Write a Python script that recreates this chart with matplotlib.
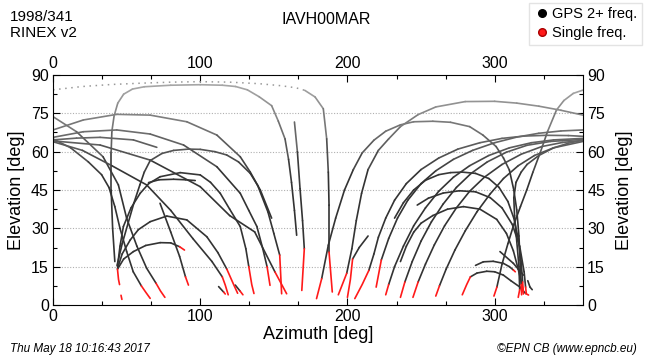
import matplotlib
matplotlib.use("Agg")
import matplotlib.pyplot as plt
from matplotlib.collections import LineCollection
from matplotlib.lines import Line2D
from matplotlib.ticker import MultipleLocator, AutoMinorLocator

plt.rcParams["font.family"] = ["Liberation Sans", "DejaVu Sans"]

# satellite passes as (azimuth, elevation) points, dual-frequency part
zenith_pass = [(0, 84.2), (20, 85.5), (40, 86.3), (60, 86.8), (80, 87.2), (100, 87.4),
               (120, 87.2), (140, 86.6), (155, 85.8), (165, 85), (171, 84)]

tracks_west = [
    [(42, 17), (40.5, 30), (39.5, 45), (39.5, 60), (40, 68), (41.5, 74), (44, 79), (48, 82.5),
     (54, 84.5), (62, 85.4), (80, 86), (100, 86.2), (115, 86), (124, 85.5), (132, 84.2),
     (140, 81.5), (148.5, 78), (153, 72), (157.6, 65), (160, 57), (162, 48), (164, 37),
     (165.5, 27.3)],
    [(0, 73.7), (16, 67.8), (34, 58), (44.4, 47), (50, 34), (57, 23), (63.6, 14.4), (70, 8.5)],
    [(0, 68.5), (20.6, 72.4), (43.3, 74.6), (66, 74.3), (90.9, 71.7), (111.3, 66.5), (127.2, 58),
     (134, 52), (140.8, 45), (148.5, 34)],
    [(0, 65.6), (20.6, 67.8), (43.3, 68.5), (66, 66.9), (88.7, 62.6), (111.3, 54.1), (127.2, 43.7),
     (133, 37), (138.5, 30.7), (142.5, 22), (145.4, 15)],
    [(0, 64.6), (16, 65.3), (32, 65.6), (54.6, 64.6), (70.5, 61.7)],
    [(0, 64.2), (32, 62.6), (66, 56.7), (100, 46.3), (120, 35), (137, 28.6), (150.8, 12.9)],
    [(0, 63.9), (20, 60.5), (40, 54.5), (63.6, 47), (80, 37), (95, 26), (108, 17), (115, 11)],
    [(0, 65), (12, 61.5), (24, 56), (33, 51), (38, 46), (42, 38.5), (45.5, 30), (50, 21),
     (54.5, 13), (60, 7.5)],
    [(43.8, 14), (48, 18), (54.6, 20.9), (63, 23.3), (72.8, 24.4), (80, 24.3), (86, 22.8)],
    [(43.8, 14.3), (47, 20), (52.4, 25.4), (58, 29.5), (66, 32.6), (77.3, 34.8), (90.9, 33.3),
     (104.5, 26.7), (112, 20.5), (118.1, 14)],
    [(43.8, 15), (45.5, 23), (47.8, 30.7), (53, 38), (59.2, 43.7), (65, 47.5), (72.8, 50.2),
     (86.4, 51.8), (100, 50.9), (107, 48), (113.6, 43.7), (120, 37.5), (127.2, 30.7), (131, 22),
     (133, 15)],
    [(43.5, 15.5), (47, 24), (51, 32), (55, 40), (59, 47), (62, 52), (66, 56.5), (74, 59.3),
     (82, 60.5), (92, 61), (100, 60.9), (110, 60), (118, 58.7), (126, 56), (134, 51.5),
     (139, 46.8), (146, 36.4), (150, 28), (154, 19.5)],
    [(64.9, 47.9), (72, 49), (81.9, 49.2), (90, 49), (96.6, 48.7)],
    [(72.7, 39.8), (80, 28.5), (86, 19), (90, 11)],
    [(112.5, 7.2), (116, 5)],
    [(123.8, 7.8), (127, 5.5)],
    [(164, 71.6), (166, 60), (167.8, 45.5), (169.5, 33), (170.7, 22)],
    [(171, 84), (178, 81.4), (183.6, 76.8), (185.9, 65), (187, 52), (187.5, 39), (187.5, 20.7)],
]

tracks_east = [
    [(182.5, 10.3), (187, 23.4), (192, 34), (198, 45), (204, 53), (210, 59.5), (218, 64.5),
     (226, 68), (236, 70.5), (245, 71.7), (258, 71.9), (270, 71.5), (283, 69.8), (292, 66.5),
     (301, 62), (306, 57.5), (310, 52.8), (313, 45), (315, 37.2), (316.5, 27), (317.2, 17.6),
     (318, 8)],
    [(199.5, 12.4), (203, 22), (206, 33), (209.6, 43.7), (214, 53), (221, 60.5), (228, 65),
     (236, 69.8), (248, 74.5), (260, 77.5), (280, 79.6), (300, 79.7), (315, 79), (330, 77.8),
     (345, 76.2), (360, 74.3)],
    [(301.5, 7), (305, 16), (309, 24), (313, 31.5), (317.5, 38.5), (321.8, 45), (326, 52),
     (330.8, 59.4), (336, 68), (342, 76.3), (347, 80), (353.4, 82.8), (360, 84.1)],
    [(203.5, 18), (208, 22.5), (214, 27)],
    [(214.5, 13.5), (218, 20), (221, 26.5), (226, 34), (232, 41), (240, 47.5), (250, 53),
     (262, 57.5), (275, 61), (290, 63.5), (305, 65.2), (320, 66.1), (335, 66.4), (350, 66.3),
     (360, 66)],
    [(223, 17.6), (228, 26), (234, 34), (241, 41), (250, 47.5), (260, 52.5), (272, 57),
     (285, 60.5), (300, 63.5), (315, 65.7), (330, 67.2), (345, 68.1), (360, 68.5)],
    [(228, 8), (232, 15), (238, 23), (245, 31), (253, 38), (262, 44.5), (272, 50), (283, 54.5),
     (296, 58.5), (310, 61.5), (325, 63.5), (340, 64.6), (360, 65.2)],
    [(239, 9), (244, 17), (250, 25), (257, 32.5), (265, 39.5), (274, 46), (284, 51.5), (295, 56),
     (308, 59.8), (322, 62.5), (338, 64), (360, 64.8)],
    [(248, 9), (253, 16), (259, 23.5), (266, 31), (274, 38), (283, 44.5), (293, 50), (305, 55),
     (318, 59), (332, 62), (346, 63.6), (360, 64.4)],
    [(262.5, 7.5), (267, 14), (273, 21.5), (280, 29), (288, 36.5), (297, 43.5), (306, 49.5),
     (316, 54.5), (327, 58.5), (340, 61.5), (360, 64)],
    [(317, 6), (316.5, 15), (315, 25), (313.5, 35), (313, 42), (314.5, 48), (318, 52), (322, 55),
     (330, 58.5), (340, 61.5), (350, 63.3), (360, 64.5)],
    [(232, 34), (238, 40), (245, 45), (253, 48.8), (262, 51), (270, 51.8), (278, 52), (287, 51.5),
     (296, 49.5), (303, 46), (309, 40.5), (313, 34), (316, 26), (318, 17), (319, 9)],
    [(247.4, 39.1), (255, 41.8), (265, 43.8), (276, 44.7), (287, 44.3), (297, 42), (305, 38),
     (312, 31.5), (317, 23), (320, 13), (321, 7)],
    [(236, 17), (240, 23), (245, 28.5), (250, 32), (258, 35), (268, 37.5), (278.8, 38.5),
     (290, 37.5), (301.4, 33.5), (308, 28), (312.7, 21.2), (316, 14), (318.5, 8)],
    [(283.5, 11), (288, 12.5), (294.6, 13.2), (300, 13), (305.9, 11.7), (311, 9.5), (317.2, 7),
     (321, 4.5)],
    [(287, 15.5), (292.3, 16.9), (299, 17.1), (305.9, 16.3), (310, 15), (312.7, 13.7)],
    [(303.6, 20.9), (312.7, 16.3), (319.5, 11.7)],
    [(322.5, 9.5), (324, 7), (325.5, 6)],
]

# single-frequency pieces (red)
single_freq = [
    [(43.8, 14), (44.5, 10), (45.2, 8)], [(46.2, 3.8), (46.8, 2.2)],
    [(60, 7.5), (63, 5), (66, 2.6)], [(70, 8.5), (73, 5.5), (76, 3)],
    [(90, 11), (92, 7.8)], [(86, 22.8), (89.3, 21.5)],
    [(115, 11), (117, 7.8), (119, 4)], [(118.1, 14), (122.7, 8), (125.4, 4.6)],
    [(116, 5), (117, 4.3)], [(127, 5.5), (129, 4)],
    [(133, 15), (135, 8), (136.5, 4.5)], [(145.4, 15), (147.4, 7.7)],
    [(150.8, 12.9), (158.7, 4.4)], [(154, 19.5), (155.3, 4.4)],
    [(170.7, 22), (169, 5.7)], [(187.5, 20.7), (189.7, 5.1)],
    [(179, 2.5), (182.5, 10.3)], [(318, 8), (318.3, 4)],
    [(193.8, 4), (199.5, 12.4)], [(299.5, 3.5), (301.5, 7)],
    [(200, 3), (202, 10), (203.5, 18)], [(205, 2.5), (210, 8), (214.5, 13.5)],
    [(219.5, 7), (223, 17.6)], [(226, 4), (228, 8)], [(236, 3), (239, 9)],
    [(244.5, 3), (248, 9)], [(260, 3.5), (262.5, 7.5)], [(316, 3), (317, 6)],
    [(319, 9), (319.5, 5)], [(321, 7), (321.5, 4.5)], [(318.5, 8), (319.5, 4.3)],
    [(278, 4), (281, 8), (283.5, 11)], [(321, 4.5), (323, 3.9)],
    [(312.7, 13.7), (314, 13)],
]


def shade(el):
    # passes look paler where they run high in the sky
    t = min(max((el - 50) / 35, 0), 1)
    g = 0.2 + 0.45 * t
    return (g, g, g)


def draw_track(ax, pts, lw=1.2):
    segs = [[p, q] for p, q in zip(pts[:-1], pts[1:])]
    cols = [shade((p[1] + q[1]) / 2) for p, q in zip(pts[:-1], pts[1:])]
    ax.add_collection(LineCollection(segs, colors=cols, linewidths=lw, capstyle="round"))


fig = plt.figure(figsize=(6.5, 3.6), dpi=100)
ax = fig.add_axes([53 / 650, 1 - 305 / 360, 530 / 650, 230 / 360])

ax.set_xlim(0, 360)
ax.set_ylim(0, 90)
ax.xaxis.set_major_locator(MultipleLocator(100))
ax.xaxis.set_minor_locator(AutoMinorLocator(3))
ax.yaxis.set_major_locator(MultipleLocator(15))
ax.yaxis.set_minor_locator(AutoMinorLocator(2))
ax.tick_params(which="both", direction="in", top=True, right=True,
               labeltop=True, labelright=True, labelsize=11.5, width=0.8)
ax.tick_params(which="major", length=5, pad=3)
ax.tick_params(which="minor", length=3)
for y in [15, 30, 45, 60, 75]:
    ax.axhline(y, color="#b0b0b0", lw=0.8, ls=(0, (1, 1.5)), zorder=0)

az, el = zip(*zenith_pass)
ax.plot(az, el, color="#999999", lw=1.1, ls=(0, (1, 3)))
for pts in tracks_west + tracks_east:
    draw_track(ax, pts)
for pts in single_freq:
    a, e = zip(*pts)
    ax.plot(a, e, color="#ff1a1a", lw=1.2, solid_capstyle="round")

ax.set_xlabel("Azimuth [deg]", fontsize=13, labelpad=1)
ax.set_ylabel("Elevation [deg]", fontsize=13, labelpad=4)
ax.text(1.078, 0.5, "Elevation [deg]", transform=ax.transAxes, rotation=90,
        ha="center", va="center", fontsize=13)

fig.text(10 / 650, 1 - 17 / 360, "1998/341", fontsize=11, va="center")
fig.text(10 / 650, 1 - 33 / 360, "RINEX v2", fontsize=11, va="center")
fig.text(326 / 650, 1 - 20 / 360, "IAVH00MAR", fontsize=11.5, ha="center", va="center")
fig.text(10 / 650, 1 - 349 / 360, "Thu May 18 10:16:43 2017", fontsize=8.5,
         style="italic", va="center")
fig.text(637 / 650, 1 - 349 / 360, "\u00a9EPN CB (www.epncb.eu)", fontsize=8.5,
         style="italic", va="center", ha="right")

handles = [Line2D([], [], ls="none", marker="o", ms=5.5, color="black"),
           Line2D([], [], ls="none", marker="o", ms=5.5, color="#ff1a1a", mec="#aa0000")]
fig.legend(handles, ["GPS 2+ freq.", "Single freq."], loc="upper right",
           bbox_to_anchor=(642 / 650, 1 - 3 / 360), fontsize=10.5, frameon=True,
           fancybox=False, edgecolor="#dddddd", handletextpad=0.1, handlelength=1.2,
           borderpad=0.3, labelspacing=0.35, borderaxespad=0)

fig.savefig("out.png", dpi=100)
